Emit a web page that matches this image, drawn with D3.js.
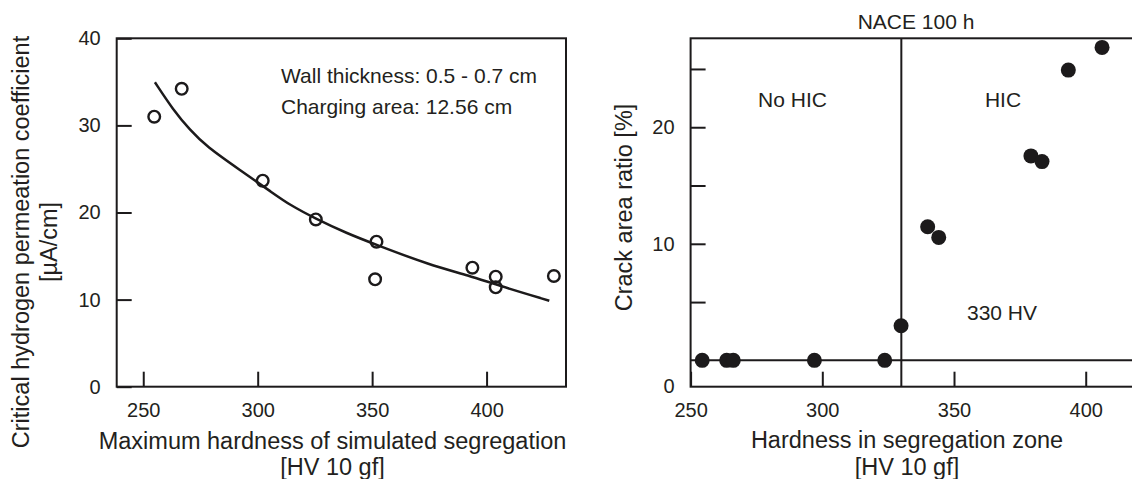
<!DOCTYPE html>
<html>
<head>
<meta charset="utf-8">
<script src="https://cdn.jsdelivr.net/npm/d3@7"></script>
<style>
  html, body { margin: 0; padding: 0; background: #fff; }
  svg { display: block; }
  text { font-family: "Liberation Sans", Arial, Helvetica, sans-serif; fill: #231f20; }
</style>
</head>
<body>
<svg id="chart" width="1132" height="479"></svg>
<script>
// ---- Left panel: critical hydrogen permeation coefficient vs. maximum hardness ----
const permHardness = [254.8, 266.8, 302.2, 325.4, 351.9, 351.3, 393.8, 404.0, 404.0, 429.4];
const permCoeff    = [31.0, 34.2, 23.65, 19.2, 16.65, 12.33, 13.66, 12.63, 11.41, 12.71];

// fitted trend line, sampled along the drawn curve
const fitHardness = [255.1, 263.1, 270.4, 277.7, 292.2, 306.8, 314.1, 325.0, 338.9, 352.0, 375.2, 392.7, 404.4, 427.4];
const fitCoeff    = [34.95, 31.77, 29.47, 27.55, 24.88, 22.20, 20.86, 19.33, 17.61, 16.27, 13.97, 12.74, 11.68, 9.87];

const leftXTicks = [250, 300, 350, 400];
const leftYTicks = [0, 10, 20, 30, 40];

// ---- Right panel: crack area ratio vs. hardness in segregation zone ----
const hicHardness  = [254.4, 263.7, 266.2, 297.0, 323.7, 329.9, 340.0, 344.2, 379.2, 383.4, 393.4, 406.2];
const hicCrackArea = [0, 0, 0, 0, 0, 2.97, 11.46, 10.55, 17.54, 17.05, 24.9, 26.85];

const thresholdHV = 330;
const rightXTicks = [250, 300, 350, 400];
const rightYTicks = [5, 10, 15, 20, 25];
const rightYLabelled = [10, 20];

const ink = "#1c1a1b";
const svg = d3.select("#chart");

function styleAxis(g) {
  g.select(".domain").remove();
  g.selectAll("line").attr("stroke", ink).attr("stroke-width", 2);
  g.selectAll("text").attr("font-size", 20).attr("fill", "#231f20")
    .attr("font-family", '"Liberation Sans", Arial, sans-serif');
}

// ================= LEFT =================
const xL = d3.scaleLinear().domain([238.4, 434.7]).range([116.7, 566]);
const yL = d3.scaleLinear().domain([0, 40]).range([386.7, 38.3]);

const gL = svg.append("g");

gL.append("g")
  .attr("transform", `translate(0,${yL.range()[0]})`)
  .call(d3.axisBottom(xL).tickValues(leftXTicks).tickSize(-15).tickPadding(16))
  .call(styleAxis);

gL.append("g")
  .attr("transform", `translate(${xL.range()[0]},0)`)
  .call(d3.axisLeft(yL).tickValues(leftYTicks).tickSize(-15).tickPadding(16))
  .call(styleAxis);

gL.append("rect")
  .attr("x", xL.range()[0]).attr("y", yL.range()[1])
  .attr("width", xL.range()[1] - xL.range()[0])
  .attr("height", yL.range()[0] - yL.range()[1])
  .attr("fill", "none").attr("stroke", ink).attr("stroke-width", 2);

const fitLine = d3.line()
  .x((d, i) => xL(fitHardness[i]))
  .y((d, i) => yL(fitCoeff[i]))
  .curve(d3.curveBasis);

gL.append("path")
  .datum(fitHardness)
  .attr("d", fitLine)
  .attr("fill", "none").attr("stroke", ink).attr("stroke-width", 2.5);

gL.selectAll("circle.perm")
  .data(permHardness)
  .join("circle")
  .attr("class", "perm")
  .attr("cx", d => xL(d))
  .attr("cy", (d, i) => yL(permCoeff[i]))
  .attr("r", 5.8)
  .attr("fill", "none").attr("stroke", ink).attr("stroke-width", 2.4);

gL.append("text").attr("x", 281).attr("y", 83.3).attr("font-size", 21)
  .text("Wall thickness: 0.5 - 0.7 cm");
gL.append("text").attr("x", 281).attr("y", 114.3).attr("font-size", 21)
  .text("Charging area: 12.56 cm");

const xTitleL = gL.append("text").attr("text-anchor", "middle").attr("font-size", 23.5);
xTitleL.append("tspan").attr("x", 332.5).attr("y", 449).text("Maximum hardness of simulated segregation");
xTitleL.append("tspan").attr("x", 332.5).attr("y", 474.5).text("[HV 10 gf]");

const yTitleL = gL.append("text").attr("text-anchor", "middle").attr("font-size", 23.5)
  .attr("transform", "translate(0,242) rotate(-90)");
yTitleL.append("tspan").attr("x", 0).attr("y", 28.5).text("Critical hydrogen permeation coefficient");
yTitleL.append("tspan").attr("x", 0).attr("y", 56.5).text("[µA/cm]");

// ================= RIGHT =================
const xR = d3.scaleLinear().domain([250, 420]).range([690.6, 1138.4]);
const yR = d3.scaleLinear().domain([-2.26, 27.63]).range([386.7, 38.3]);

const gR = svg.append("g");

gR.append("g")
  .attr("transform", `translate(0,${yR.range()[0]})`)
  .call(d3.axisBottom(xR).tickValues(rightXTicks).tickSize(-15).tickPadding(16))
  .call(styleAxis);

gR.append("g")
  .attr("transform", `translate(${xR.range()[0]},0)`)
  .call(d3.axisLeft(yR).tickValues(rightYTicks).tickSize(-15).tickPadding(16)
      .tickFormat(d => rightYLabelled.includes(d) ? d : ""))
  .call(styleAxis);

// origin label at the foot of the axis
gR.append("text")
  .attr("x", xR.range()[0] - 16).attr("y", yR.range()[0])
  .attr("dy", "0.32em").attr("text-anchor", "end").attr("font-size", 20)
  .text("0");

gR.append("rect")
  .attr("x", xR.range()[0]).attr("y", yR.range()[1])
  .attr("width", xR.range()[1] - xR.range()[0])
  .attr("height", yR.range()[0] - yR.range()[1])
  .attr("fill", "none").attr("stroke", ink).attr("stroke-width", 2);

// zero-crack baseline and 330 HV threshold
gR.append("line")
  .attr("x1", xR.range()[0]).attr("x2", xR.range()[1])
  .attr("y1", yR(0)).attr("y2", yR(0))
  .attr("stroke", ink).attr("stroke-width", 2);
gR.append("line")
  .attr("x1", xR(thresholdHV)).attr("x2", xR(thresholdHV))
  .attr("y1", yR.range()[1]).attr("y2", yR.range()[0])
  .attr("stroke", ink).attr("stroke-width", 2);

gR.selectAll("circle.hic")
  .data(hicHardness)
  .join("circle")
  .attr("class", "hic")
  .attr("cx", d => xR(d))
  .attr("cy", (d, i) => yR(hicCrackArea[i]))
  .attr("r", 7.5)
  .attr("fill", ink);

gR.append("text").attr("x", 916).attr("y", 29).attr("text-anchor", "middle").attr("font-size", 21)
  .text("NACE 100 h");
gR.append("text").attr("x", 792.5).attr("y", 107.3).attr("text-anchor", "middle").attr("font-size", 21)
  .text("No HIC");
gR.append("text").attr("x", 1003).attr("y", 107.3).attr("text-anchor", "middle").attr("font-size", 21)
  .text("HIC");
gR.append("text").attr("x", 1002).attr("y", 320).attr("text-anchor", "middle").attr("font-size", 21)
  .text("330 HV");

const xTitleR = gR.append("text").attr("text-anchor", "middle").attr("font-size", 23.5);
xTitleR.append("tspan").attr("x", 907).attr("y", 448.3).text("Hardness in segregation zone");
xTitleR.append("tspan").attr("x", 907).attr("y", 474.5).text("[HV 10 gf]");

gR.append("text").attr("text-anchor", "middle").attr("font-size", 23.5)
  .attr("transform", "translate(632,207.5) rotate(-90)")
  .text("Crack area ratio [%]");
</script>
</body>
</html>
